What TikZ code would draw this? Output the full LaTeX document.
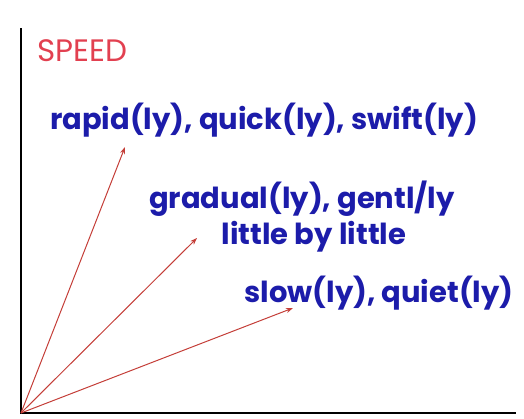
\documentclass[tikz,border=0pt]{standalone}
\usepackage{fontspec}
\setmainfont{Poppins}
\usepackage{tikz}
\usetikzlibrary{arrows.meta,positioning}
\usepackage{xcolor}
\definecolor{speedred}{RGB}{226,64,80}
\definecolor{wordblue}{RGB}{28,28,170}
\definecolor{arrowred}{RGB}{196,62,56}

\begin{document}
\begin{tikzpicture}[x=1pt,y=-1pt,
    word/.style={text=wordblue, font=\fontsize{29}{32}\selectfont\bfseries, inner sep=0pt},
    vec/.style={-{Stealth[length=7pt,width=5pt]}, arrowred, line width=1pt}]
    \useasboundingbox (0,0) rectangle (524,418);

    % axes
    \coordinate (origin) at (21,413);
    \coordinate (ytop) at (21,28);
    \coordinate (xend) at (516,413);
    \draw[line width=2.6pt] (ytop) -- (origin) -- (xend);

    \node[text=speedred, font=\fontsize{31}{34}\selectfont, inner sep=0pt, anchor=west] (speed) at (37,51) {SPEED};

    \node[word] (fast) at (264,120) {rapid(ly), quick(ly), swift(ly)};
    \node[word] (medium) at (302,199) {gradual(ly), gentl/ly};
    \node[word] (medium2) at (314,237) {little by little};
    \node[word] (slow) at (379,293) {slow(ly), quiet(ly)};

    % arrow tips
    \coordinate (tipfast) at (125,147);
    \coordinate (tipmedium) at (197,238);
    \coordinate (tipslow) at (293,308);

    \draw[vec] (origin) -- (tipfast);
    \draw[vec] (origin) -- (tipmedium);
    \draw[vec] (origin) -- (tipslow);
\end{tikzpicture}
\end{document}
